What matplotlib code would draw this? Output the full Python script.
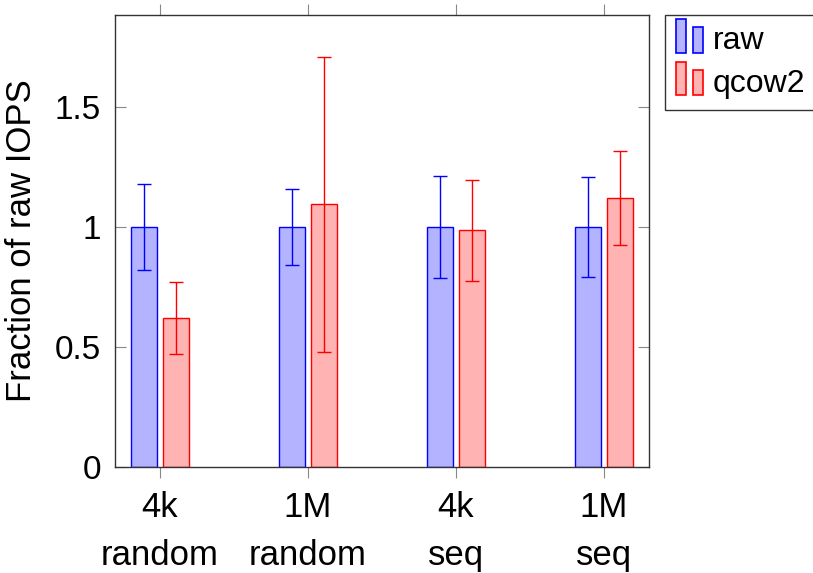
import matplotlib
matplotlib.use('Agg')
import matplotlib.pyplot as plt
import numpy as np
from matplotlib.legend_handler import HandlerBase
from matplotlib.patches import Rectangle

categories = ['4k\nrandom', '1M\nrandom', '4k\nseq', '1M\nseq']
raw = [1.0, 1.0, 1.0, 1.0]
raw_err = [0.18, 0.16, 0.213, 0.207]
qcow2 = [0.62, 1.095, 0.986, 1.12]
qcow2_err = [0.15, 0.615, 0.211, 0.197]

plt.rcParams['font.family'] = ['Liberation Sans', 'DejaVu Sans']


class BarPair:
    def __init__(self, fc, ec):
        self.fc = fc
        self.ec = ec


class BarPairHandler(HandlerBase):
    # pgfplots-style ybar legend: two small bars of different height
    def create_artists(self, legend, orig_handle, xdescent, ydescent,
                       width, height, fontsize, trans):
        w = width * 0.3
        y0 = -ydescent - 0.15 * height
        r1 = Rectangle((-xdescent, y0), w, height * 1.5,
                       facecolor=orig_handle.fc, edgecolor=orig_handle.ec,
                       lw=1.2, transform=trans)
        r2 = Rectangle((-xdescent + w * 1.8, y0), w, height * 1.15,
                       facecolor=orig_handle.fc, edgecolor=orig_handle.ec,
                       lw=1.2, transform=trans)
        return [r1, r2]


figure = plt.figure(figsize=(8.13, 5.73), dpi=100)
ax = figure.add_axes([115 / 813, 106 / 573, 534 / 813, 452 / 573])

x = np.arange(len(categories))
w = 0.18
off = 0.109
blue_fc = (0.7, 0.7, 1.0)
red_fc = (1.0, 0.7, 0.7)

ax.bar(x - off, raw, w, color=blue_fc, edgecolor='blue', lw=1.0,
       yerr=raw_err, ecolor='blue',
       error_kw=dict(capsize=5, elinewidth=1.0, capthick=1.0))
ax.bar(x + off, qcow2, w, color=red_fc, edgecolor='red', lw=1.0,
       yerr=qcow2_err, ecolor='red',
       error_kw=dict(capsize=5, elinewidth=1.0, capthick=1.0))

ax.set_xlim(-0.304, 3.304)
ax.set_ylim(0, 1.883)
ax.set_xticks(x)
ax.set_xticklabels(categories, fontsize=25, linespacing=1.6)
ax.set_yticks([0, 0.5, 1, 1.5])
ax.set_yticklabels(['0', '0.5', '1', '1.5'], fontsize=24)
ax.tick_params(axis='x', direction='out', length=8, color='#888888',
               top=True, pad=9)
ax.tick_params(axis='y', direction='in', length=8, color='#888888',
               right=True, pad=10)
for s in ax.spines.values():
    s.set_color('#333333')
    s.set_linewidth(1.0)

ax.set_ylabel('Fraction of raw IOPS', fontsize=25, labelpad=12)

leg = figure.legend([BarPair(blue_fc, 'blue'), BarPair(red_fc, 'red')],
                    ['raw', 'qcow2'],
                    handler_map={BarPair: BarPairHandler()},
                    loc='upper left', bbox_to_anchor=(665 / 813, 1 - 15 / 573),
                    fontsize=23, handlelength=1.0, handletextpad=0.15,
                    borderaxespad=0, borderpad=0.35, labelspacing=0.4,
                    fancybox=False, edgecolor='#333333', framealpha=1)
leg.get_frame().set_linewidth(1.0)

figure.savefig('out.png', dpi=100)
